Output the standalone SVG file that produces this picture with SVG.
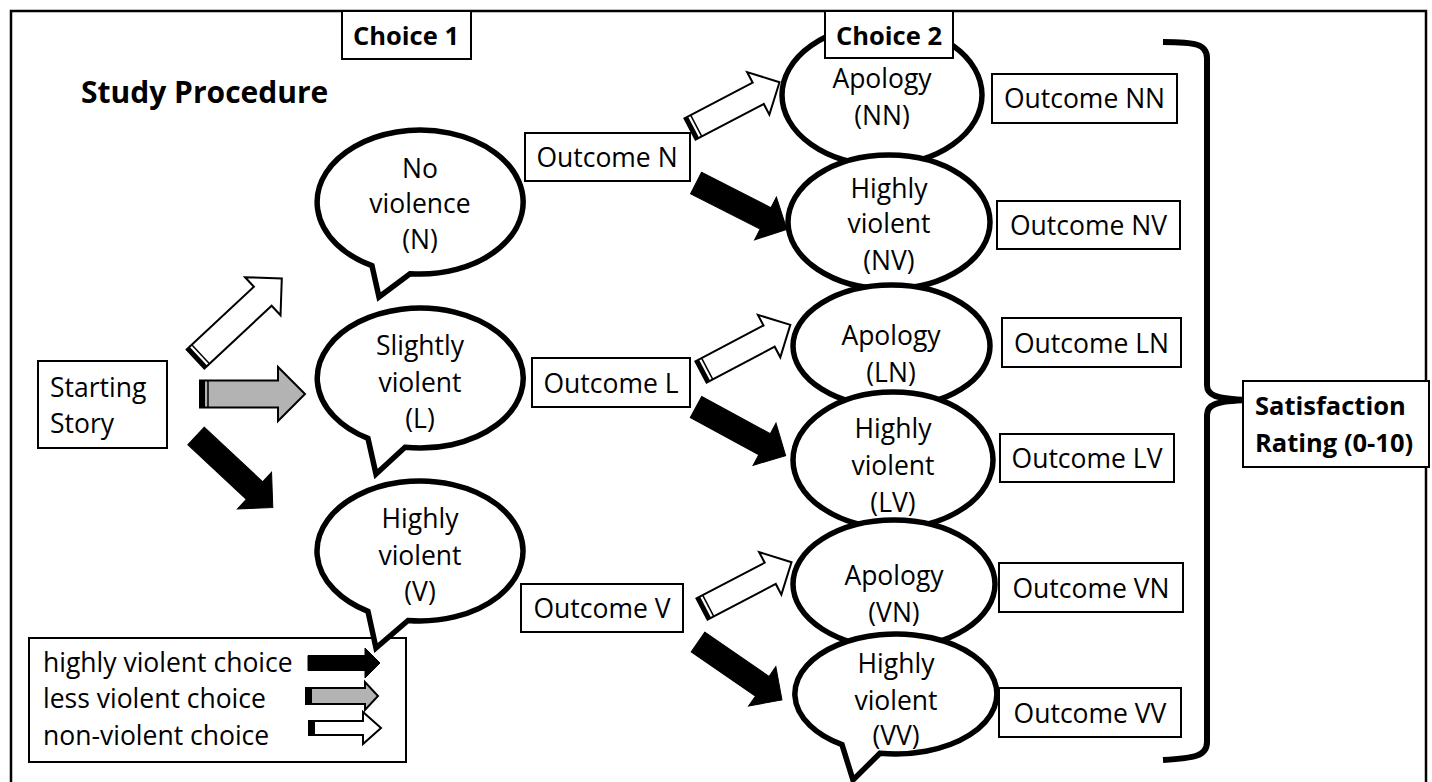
<svg xmlns="http://www.w3.org/2000/svg" width="1432" height="782" viewBox="0 0 1432 782">
<style>
text{font-family:"Open Sans","Liberation Sans",sans-serif;font-size:26.5px;fill:#000}
.b{font-weight:bold;font-size:25.5px}
.c{text-anchor:middle}
.box{fill:#fff;stroke:#000;stroke-width:2}
.bub{fill:#fff;stroke:#000;stroke-width:5.5;stroke-linejoin:miter}
.aw{fill:#fff;stroke:#000;stroke-width:2}
.ag{fill:#b3b3b3;stroke:#000;stroke-width:2}
.ab{fill:#000;stroke:#000;stroke-width:1}
.st{fill:#000}
.sl{stroke:#000;stroke-width:1.5}
</style>
<defs>
<g id="wA2">
<polygon class="aw" points="0,-12 77,-12 77,-24 101,0 77,24 77,12 0,12"/>
<rect class="st" x="0" y="-12" width="4" height="24"/>
<line class="sl" x1="7" y1="-12" x2="7" y2="12"/>
</g>
<g id="bA2">
<polygon class="ab" points="0,-12 78,-12 78,-24 102,0 78,24 78,12 0,12"/>
</g>
</defs>

<rect x="11" y="11" width="1415" height="800" fill="none" stroke="#000" stroke-width="2.5"/>
<text class="b" x="81" y="103" style="font-size:30px">Study Procedure</text>

<g id="choice1">
<rect class="box" x="342" y="11" width="129" height="48"/>
<text class="b c" x="406" y="45">Choice 1</text>
</g>

<g id="start">
<rect class="box" x="38" y="361" width="129" height="87"/>
<text x="50" y="397">Starting</text>
<text x="50" y="433">Story</text>
</g>

<g id="legend">
<rect class="box" x="29" y="638" width="377" height="124"/>
<text x="43" y="672">highly violent choice</text>
<text x="43" y="708">less violent choice</text>
<text x="43" y="745">non-violent choice</text>
<g transform="translate(308,663)"><polygon class="ab" points="0,-7.5 57,-7.5 57,-15 72,0 57,15 57,7.5 0,7.5"/></g>
<g transform="translate(306,696)"><polygon class="ag" points="0,-8 59,-8 59,-14 72,0 59,14 59,8 0,8"/><rect class="st" x="0" y="-8" width="6" height="16"/></g>
<g transform="translate(309,728)"><polygon class="aw" points="0,-7 54,-7 54,-16 72,0 54,16 54,7 0,7"/><rect class="st" x="0" y="-7" width="6" height="14"/></g>
</g>

<g id="bubN">
<path class="bub" d="M410,273.7 A103 72 0 1 0 372,265.7 L379,297 Z"/>
<text class="c" x="420" y="178">No</text>
<text class="c" x="420" y="213">violence</text>
<text class="c" x="420" y="249">(N)</text>
</g>
<g id="bubL">
<path class="bub" d="M405,447.3 A103 70 0 1 0 368,438.4 L376,474 Z"/>
<text class="c" x="420" y="355">Slightly</text>
<text class="c" x="420" y="392">violent</text>
<text class="c" x="420" y="428">(L)</text>
</g>
<g id="bubV">
<path class="bub" d="M408,620.5 A103 70 0 1 0 368,611.4 L376,648 Z"/>
<text class="c" x="420" y="528">Highly</text>
<text class="c" x="420" y="565">violent</text>
<text class="c" x="420" y="601">(V)</text>
</g>

<g id="connectors">
<g transform="translate(195.5,359) rotate(-43)">
<polygon class="aw" points="0,-13 92,-13 92,-26 118,0 92,26 92,13 0,13"/>
<rect class="st" x="0" y="-13" width="4" height="26"/>
<line class="sl" x1="7" y1="-13" x2="7" y2="13"/>
</g>
<g transform="translate(200,394)">
<polygon class="ag" points="0,-13.5 78,-13.5 78,-27 105,0 78,27 78,13.5 0,13.5"/>
<rect class="st" x="0" y="-13.5" width="5" height="27"/>
<line class="sl" x1="8" y1="-13.5" x2="8" y2="13.5"/>
</g>
<g transform="translate(196,436) rotate(43)">
<polygon class="ab" points="0,-12 80,-12 80,-25 105,0 80,25 80,12 0,12"/>
</g>
<use href="#wA2" transform="translate(690,129) rotate(-27.6)"/>
<use href="#bA2" transform="translate(696,183) rotate(27)"/>
<use href="#wA2" transform="translate(701,372) rotate(-27.8)"/>
<use href="#bA2" transform="translate(696,407) rotate(28.5)"/>
<use href="#wA2" transform="translate(702,609) rotate(-27.6)"/>
<use href="#bA2" transform="translate(698,642) rotate(34.6)"/>
<path d="M1163,42 C1195,42 1207,44 1207,58 L1207,385 C1207,395 1215,399 1248,400 C1215,401 1207,405 1207,415 L1207,742 C1207,756 1195,758 1163,760" fill="none" stroke="#000" stroke-width="6"/>
</g>

<g id="outN"><rect class="box" x="525" y="133" width="165" height="48"/><text class="c" x="607" y="167">Outcome N</text></g>
<g id="outL"><rect class="box" x="532" y="358" width="158" height="49"/><text class="c" x="611" y="393">Outcome L</text></g>
<g id="outV"><rect class="box" x="521" y="584" width="162" height="48"/><text class="c" x="602" y="618">Outcome V</text></g>

<g id="bubNN"><ellipse class="bub" cx="882" cy="95" rx="100" ry="70"/></g>
<g id="bubNV"><ellipse class="bub" cx="889" cy="222" rx="101" ry="67"/></g>
<g id="bubLN"><ellipse class="bub" cx="891.5" cy="346" rx="98.5" ry="61"/></g>
<g id="bubLV"><ellipse class="bub" cx="893" cy="460" rx="100" ry="68"/></g>
<g id="bubVN"><ellipse class="bub" cx="894" cy="584" rx="101" ry="64"/></g>
<g id="bubVV"><path class="bub" d="M880,753.2 A101 60 0 1 0 842,744.7 L853,780 Z"/></g>
<g id="c2text">
<text class="c" x="882" y="88">Apology</text>
<text class="c" x="882" y="125">(NN)</text>
<text class="c" x="889" y="198">Highly</text>
<text class="c" x="889" y="233">violent</text>
<text class="c" x="889" y="270">(NV)</text>
<text class="c" x="891" y="345">Apology</text>
<text class="c" x="891" y="382">(LN)</text>
<text class="c" x="893" y="438">Highly</text>
<text class="c" x="893" y="475">violent</text>
<text class="c" x="893" y="512">(LV)</text>
<text class="c" x="894" y="585">Apology</text>
<text class="c" x="894" y="622">(VN)</text>
<text class="c" x="896" y="673">Highly</text>
<text class="c" x="896" y="710">violent</text>
<text class="c" x="896" y="745">(VV)</text>
</g>

<g id="choice2">
<rect class="box" x="825" y="11" width="128" height="47"/>
<text class="b c" x="889" y="45">Choice 2</text>
</g>

<g id="outNN"><rect class="box" x="992" y="74" width="185" height="49"/><text class="c" x="1084.5" y="108">Outcome NN</text></g>
<g id="outNV"><rect class="box" x="997" y="201" width="183" height="48"/><text class="c" x="1088.5" y="235">Outcome NV</text></g>
<g id="outLN"><rect class="box" x="1002" y="318" width="179" height="49"/><text class="c" x="1091.5" y="353">Outcome LN</text></g>
<g id="outLV"><rect class="box" x="1000" y="434" width="174" height="48"/><text class="c" x="1087" y="468">Outcome LV</text></g>
<g id="outVN"><rect class="box" x="999" y="563" width="184" height="49"/><text class="c" x="1091" y="598">Outcome VN</text></g>
<g id="outVV"><rect class="box" x="999" y="688" width="182" height="49"/><text class="c" x="1090" y="723">Outcome VV</text></g>

<g id="satisfaction">
<rect class="box" x="1243" y="381" width="186" height="86"/>
<text class="b" x="1255" y="415">Satisfaction</text>
<text class="b" x="1255" y="452">Rating (0-10)</text>
</g>
</svg>
